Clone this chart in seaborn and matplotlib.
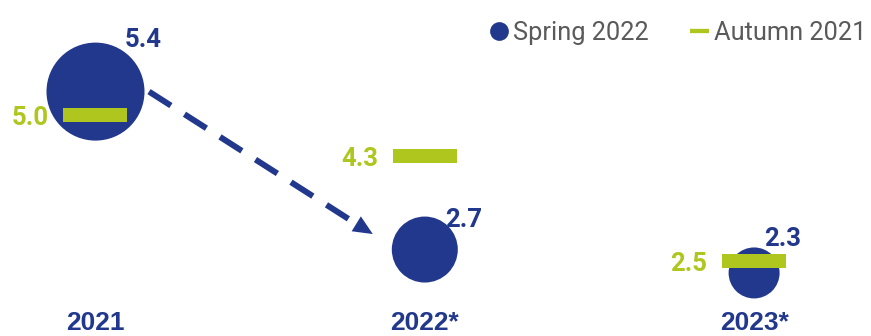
import matplotlib
matplotlib.use("Agg")
import matplotlib.pyplot as plt
import matplotlib.transforms as mtransforms
from matplotlib.lines import Line2D
import seaborn as sns
import pandas as pd

# ---- data ----
categories = ["2021", "2022*", "2023*"]
spring_2022 = [5.4, 2.7, 2.3]
autumn_2021 = [5.0, 4.3, 2.5]
series_names = ["Spring 2022", "Autumn 2021"]

# ---- style ----
NAVY = "#22388C"
GREEN = "#AFC61F"
GREY = "#5A5A5A"
circle_sizes = {"2021": 4980, "2022*": 2258, "2023*": 1348}  # marker area (pt^2)
# label offsets in pixels (dx right, dy down) relative to the marker centre, baseline aligned
spring_label_off = [(29, -45), (20, -23), (10, -27)]
autumn_label_off = (-47, 10)

sns.set_theme(style="white")
plt.rcParams["font.family"] = ["Roboto", "DejaVu Sans"]

fig = plt.figure(figsize=(8.71, 3.36), dpi=100)
ax = fig.add_axes([0, 0, 1, 1])

spring_df = pd.DataFrame({"year": categories, "value": spring_2022, "series": series_names[0]})
autumn_df = pd.DataFrame({"year": categories, "value": autumn_2021, "series": series_names[1]})

# circles (area styled per category)
sns.scatterplot(data=spring_df, x="year", y="value", size="year", sizes=circle_sizes,
                color=NAVY, linewidth=0, legend=False, ax=ax, zorder=2)

# green horizontal bars as a rectangular marker
h = 0.219 / 2
rect = [(-0.5, -h), (0.5, -h), (0.5, h), (-0.5, h), (-0.5, -h)]
sns.scatterplot(data=autumn_df, x="year", y="value", marker=rect, s=46 ** 2,
                color=GREEN, linewidth=0, legend=False, ax=ax, zorder=3)

ax.set_xlim(-0.29, 2.355)
ax.set_ylim(1.2222, 6.9658)
ax.set_axis_off()

px = 72.0 / fig.dpi

# value labels
for i, (v, (dx, dy)) in enumerate(zip(spring_2022, spring_label_off)):
    ax.annotate(f"{v:.1f}", xy=(i, v), xytext=(dx * px, -dy * px), textcoords="offset points",
                ha="left", va="baseline", fontsize=18.5, fontweight="bold", color=NAVY, zorder=5)
for i, v in enumerate(autumn_2021):
    ax.annotate(f"{v:.1f}", xy=(i, v), xytext=(autumn_label_off[0] * px, -autumn_label_off[1] * px),
                textcoords="offset points", ha="right", va="baseline", fontsize=18.5,
                fontweight="bold", color=GREEN, zorder=5)

# category labels at the bottom
trans_x = mtransforms.blended_transform_factory(ax.transData, ax.transAxes)
for i, c in enumerate(categories):
    ax.text(i, 0.5 / 336, c, transform=trans_x, ha="center", va="bottom",
            fontsize=19, fontweight="bold", color=NAVY,
            family=["Liberation Sans", "DejaVu Sans"], clip_on=False)

# dashed arrow from 2021 to 2022 circle
def off(dx, dy):
    return ax.transData + mtransforms.ScaledTranslation(dx / fig.dpi, -dy / fig.dpi, fig.dpi_scale_trans)

ax.annotate("", xy=(1, spring_2022[1]), xycoords=off(-69, -26),
            xytext=(0, spring_2022[0]), textcoords=off(53.5, 0),
            arrowprops=dict(arrowstyle="-", color=NAVY, lw=4.3, linestyle=(0, (4.35, 2.7)),
                            shrinkA=0, shrinkB=0, capstyle="butt"), zorder=4)
ax.annotate("", xy=(1, spring_2022[1]), xycoords=off(-52, -15.5),
            xytext=(1, spring_2022[1]), textcoords=off(-69, -26),
            arrowprops=dict(arrowstyle="-|>,head_length=1.0,head_width=0.45", color=NAVY, lw=0,
                            shrinkA=0, shrinkB=0, mutation_scale=14), zorder=4)

# legend
handles = [
    Line2D([], [], marker="o", linestyle="none", markersize=13.5, markerfacecolor=NAVY,
           markeredgewidth=0, label=series_names[0]),
    Line2D([], [], color=GREEN, lw=3.1, solid_capstyle="butt", label=series_names[1]),
]
leg = ax.legend(handles=handles, ncol=2, frameon=False, loc="upper right",
                bbox_to_anchor=(1 - 5 / 871, 1 - 21 / 336), bbox_transform=fig.transFigure,
                fontsize=18.3, handlelength=0.74, handletextpad=0.2, columnspacing=1.6,
                borderpad=0, borderaxespad=0)
for t in leg.get_texts():
    t.set_color(GREY)

fig.savefig("out.png", dpi=100)
